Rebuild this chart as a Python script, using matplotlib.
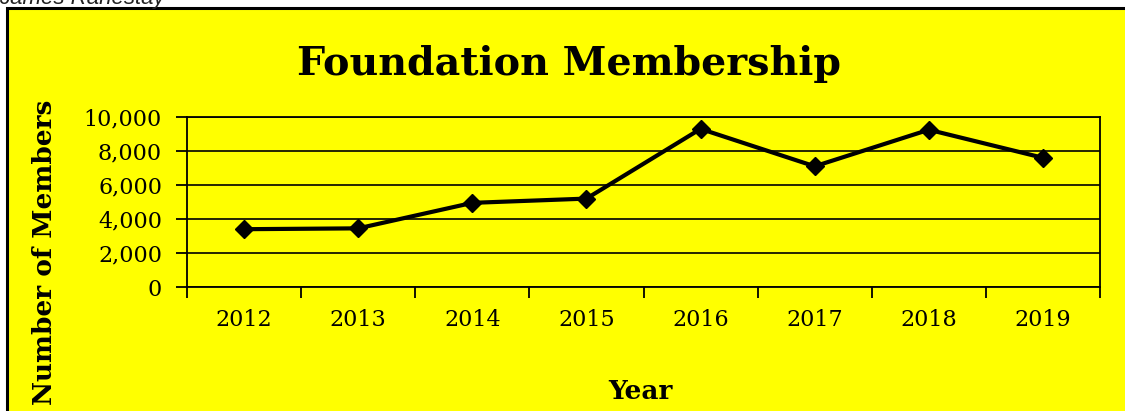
import matplotlib
matplotlib.use("Agg")
import matplotlib.pyplot as plt
from matplotlib.patches import Rectangle
from matplotlib import ticker

years = ["2012", "2013", "2014", "2015", "2016", "2017", "2018", "2019"]
members = [3400, 3450, 4950, 5200, 9300, 7100, 9250, 7600]
y_ticks = [0, 2000, 4000, 6000, 8000, 10000]

W, H = 1125, 411
fig = plt.figure(figsize=(W / 100, H / 100), dpi=100)
fig.patch.set_facecolor("white")

# yellow chart area with black border (cut at bottom/right)
fig.patches.append(Rectangle((7 / W, -0.05), 1.2, (H - 8) / H + 0.05,
                             transform=fig.transFigure, facecolor="#ffff00",
                             edgecolor="black", linewidth=2.2, zorder=-10))

# cut-off caption at very top
fig.text(-1 / W, 1 - 4 / H, "James Ranestay", fontsize=16, style="italic",
         family="Liberation Sans", color="#222222", va="baseline", ha="left")

ax = fig.add_axes([187 / W, 1 - 287 / H, (1100 - 187) / W, (287 - 117) / H])
ax.set_zorder(1)
ax.set_facecolor("#ffff00")

x = list(range(len(years)))
ax.plot(x, members, color="black", linewidth=3.0, marker="D", markersize=9.5,
        markeredgecolor="black", zorder=3, clip_on=False)

ax.set_xlim(-0.5, len(years) - 0.5)
ax.set_ylim(0, 10000)
ax.set_yticks(y_ticks)
ax.yaxis.set_major_formatter(ticker.FuncFormatter(lambda v, p: f"{int(v):,}"))
ax.grid(axis="y", color="black", linewidth=1.2)
ax.set_axisbelow(True)

ax.set_xticks([i - 0.5 for i in range(len(years) + 1)])
ax.set_xticklabels([])
ax.set_xticks(x, minor=True)
ax.set_xticklabels(years, minor=True)
ax.tick_params(axis="x", which="minor", length=0, pad=16)
ax.tick_params(axis="x", which="major", length=8, width=1.3, direction="out")
ax.tick_params(axis="y", length=8, width=1.3, direction="out", pad=10)

serif = "DejaVu Serif"
for lab in ax.get_xticklabels(minor=True) + ax.get_yticklabels():
    lab.set_family(serif)
    lab.set_fontsize(16)

for s in ax.spines.values():
    s.set_linewidth(1.3)

fig.text(569 / W, 1 - 64 / H, "Foundation Membership", family=serif,
         fontweight="bold", fontsize=28.5, ha="center", va="center")
fig.text(45 / W, 1 - 252 / H, "Number of Members", family=serif,
         fontweight="bold", fontsize=19, rotation=90, ha="center", va="center")
fig.text(640 / W, 1 - 391 / H, "Year", family=serif,
         fontweight="bold", fontsize=19, ha="center", va="center")

fig.savefig("out.png", dpi=100)
